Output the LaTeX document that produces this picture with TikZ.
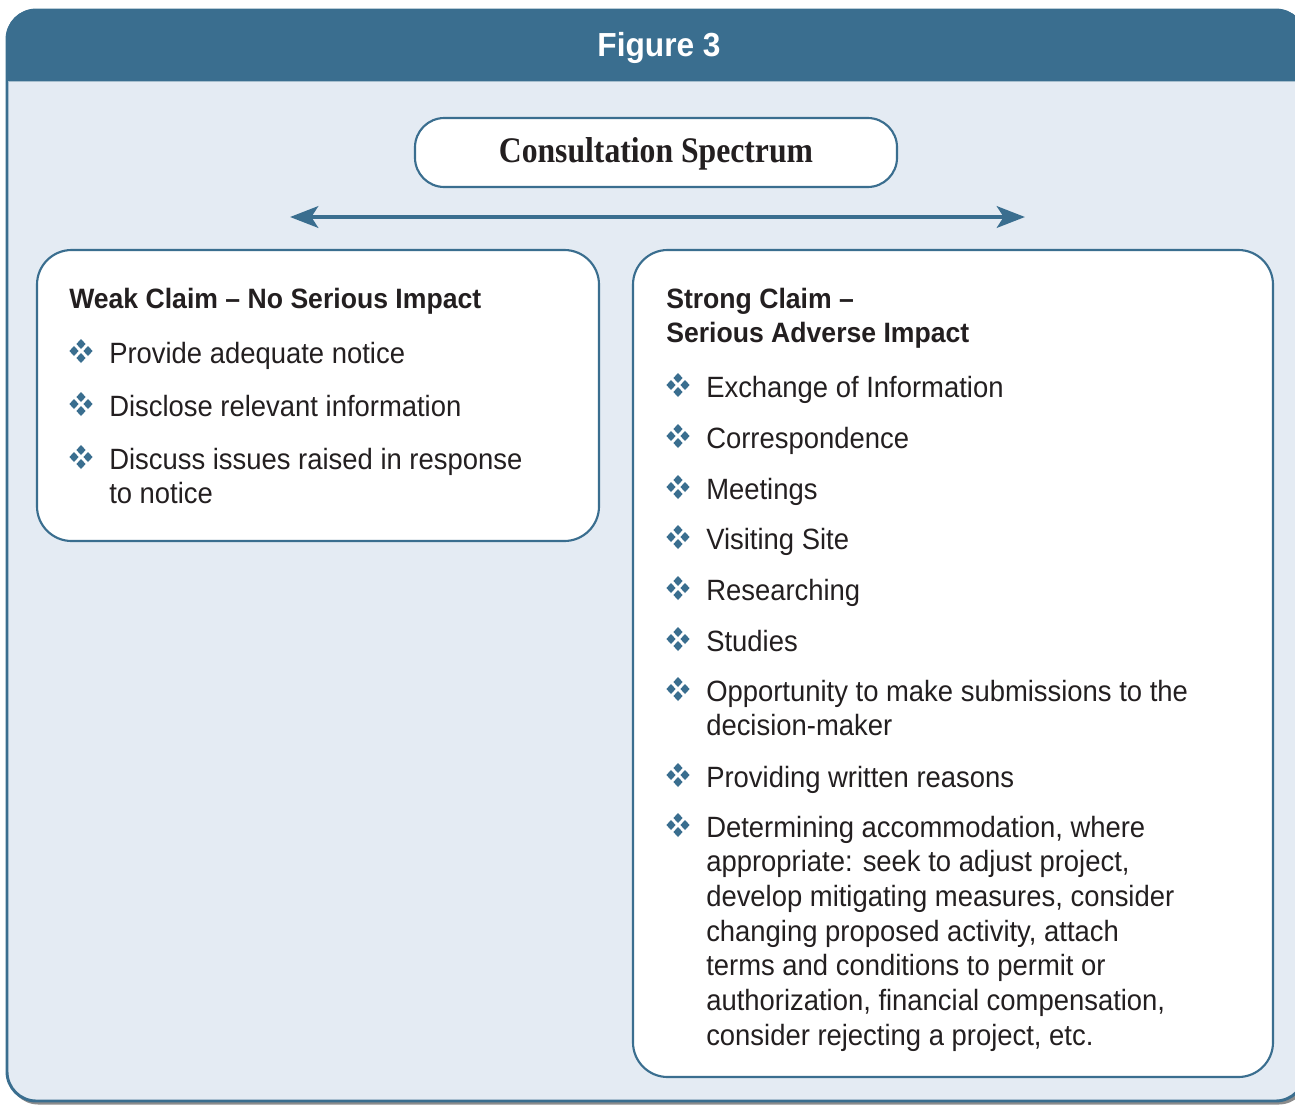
\documentclass[tikz,border=0pt]{standalone}
\usepackage{fontspec}
\setmainfont{Liberation Sans}[FakeStretch=0.935, BoldFeatures={FakeStretch=0.95}]
\newfontfamily\specfont{Liberation Serif}[FakeStretch=0.88]
\usetikzlibrary{arrows.meta}
\definecolor{frameblue}{RGB}{58,110,143}
\definecolor{bodybg}{RGB}{228,235,243}
\definecolor{ink}{RGB}{35,31,32}
\newcommand\mlines[1]{\begin{tabular}[t]{@{}l@{}}#1\end{tabular}}
\tikzset{
  box/.style={draw=frameblue, fill=white, line width=1.6pt, rounded corners=26pt, inner sep=0pt},
  head/.style={anchor=base west, inner sep=0pt, text=ink,
    font=\bfseries\fontsize{21}{25.5}\selectfont},
  item/.style={anchor=base west, inner sep=0pt, text=ink,
    font=\fontsize{22}{26}\selectfont},
  bul/.pic={\fill[frameblue] \foreach \dx/\dy in {-7/0,7/0,0/-7,0/7}
     {(\dx-4.6,\dy) -- (\dx,\dy-5) -- (\dx+4.6,\dy) -- (\dx,\dy+5) -- cycle};}
}
\begin{document}
\begin{tikzpicture}[x=0.75pt,y=-0.75pt]
\useasboundingbox (0,0) rectangle (1295,1104);
\clip (0,0) rectangle (1295,1104);
% shadow and frame
\fill[black!45, rounded corners=22pt] (9,13) rectangle (1308,1104.5);
\draw[fill=bodybg, draw=frameblue, line width=2.2pt, rounded corners=22pt] (7,10) rectangle (1305,1101);
\fill[frameblue] (6,81) [rounded corners=22pt] -- (6,9) -- (1306,9) [sharp corners] -- (1306,81) -- cycle;
\draw[frameblue!45!white, line width=0.8pt] (8,81.5) -- (1304,81.5);
\node[anchor=base, inner sep=0pt, text=white, font=\bfseries\fontsize{25}{30}\selectfont] (title) at (659,56) {Figure 3};
% spectrum
\node[box, rounded corners=22pt, minimum width=482*0.75pt, minimum height=69*0.75pt] (spec) at (656,152.5) {};
\node[anchor=base, inner sep=0pt, text=ink, font=\specfont\bfseries\fontsize{27}{32}\selectfont] (spectxt) at (656,162) {Consultation Spectrum};
\coordinate (aL) at (290,217);
\coordinate (aR) at (1025,217);
\draw[frameblue, line width=3.6pt, {Stealth[length=21pt,width=16pt,inset=5pt]}-{Stealth[length=21pt,width=16pt,inset=5pt]}] (aL) -- (aR);
% boxes
\node[box, minimum width=562*0.75pt, minimum height=291*0.75pt] (weak) at (318,395.5) {};
\node[box, minimum width=640*0.75pt, minimum height=827*0.75pt] (strong) at (953,663.5) {};
% left content
\node[head] (wh) at (69,308) {Weak Claim – No Serious Impact};
\pic at (81,351) {bul};
\node[item] (w1) at (109,363) {Provide adequate notice};
\pic at (81,404) {bul};
\node[item] (w2) at (109,416) {Disclose relevant information};
\pic at (81,457) {bul};
\node[item] (w3) at (109,469) {\mlines{Discuss issues raised in response\\to notice}};
% right content
\node[head] (sh) at (666,308) {\mlines{Strong Claim –\\Serious Adverse Impact}};
\pic at (678,385) {bul};
\node[item] (s1) at (706,397) {Exchange of Information};
\pic at (678,436) {bul};
\node[item] (s2) at (706,448) {Correspondence};
\pic at (678,487) {bul};
\node[item] (s3) at (706,499) {Meetings};
\pic at (678,537) {bul};
\node[item] (s4) at (706,549) {Visiting Site};
\pic at (678,588) {bul};
\node[item] (s5) at (706,600) {Researching};
\pic at (678,639) {bul};
\node[item] (s6) at (706,651) {Studies};
\pic at (678,689) {bul};
\node[item] (s7) at (706,701) {\mlines{Opportunity to make submissions to the\\decision-maker}};
\pic at (678,775) {bul};
\node[item] (s8) at (706,787) {Providing written reasons};
\pic at (678,825) {bul};
\node[item] (s9) at (706,837) {\mlines{Determining accommodation, where\\appropriate: seek to adjust project,\\develop mitigating measures, consider\\changing proposed activity, attach\\terms and conditions to permit or\\authorization, financial compensation,\\consider rejecting a project, etc.}};
\end{tikzpicture}
\end{document}
